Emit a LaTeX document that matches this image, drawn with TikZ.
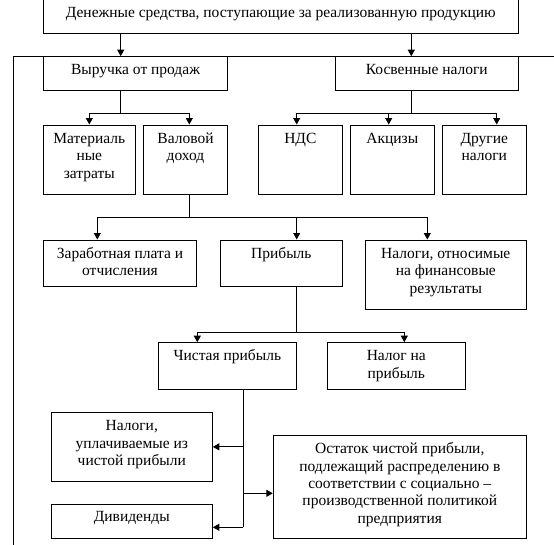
\documentclass[tikz,border=0pt]{standalone}
\usepackage{fontspec}
\setmainfont{Liberation Serif}
\usetikzlibrary{arrows.meta,fit}
\tikzset{
  ln/.style={line width=1pt},
  arr/.style={ln, -{Triangle[length=6.5pt,width=7pt]}},
  box/.style={draw, line width=1pt, inner sep=0pt},
  txt/.style={anchor=north, inner sep=0pt, align=center, font=\fontsize{15.5}{17.4}\selectfont},
}
\begin{document}
\begin{tikzpicture}[x=1pt,y=-1pt]
\useasboundingbox (0,0) rectangle (554,544);
% frame line
\coordinate (fl) at (13.3,550);
\coordinate (fr) at (560,56.7);
\draw[ln] (fl) |- (fr);
% boxes
\node[box, fit={(43.3,-3) (518.3,33.3)}] (top) {};
\node[box, fit={(43.3,56.7) (227.7,90)}] (vyr) {};
\node[box, fit={(335.3,56.7) (518.3,90)}] (kos) {};
\node[box, fit={(43.3,125) (135.3,194)}] (mat) {};
\node[box, fit={(143.3,125) (227.7,194)}] (val) {};
\node[box, fit={(258.3,125) (342.3,194)}] (nds) {};
\node[box, fit={(350.3,125) (434.3,194)}] (akc) {};
\node[box, fit={(442.3,125) (526.3,194)}] (dru) {};
\node[box, fit={(43.3,240) (196.7,286)}] (zar) {};
\node[box, fit={(220.3,240) (342.3,286)}] (pri) {};
\node[box, fit={(365.3,240) (526.3,309.3)}] (nfr) {};
\node[box, fit={(158.3,342.7) (296.3,389)}] (chi) {};
\node[box, fit={(327.3,342.7) (465.3,389)}] (nnp) {};
\node[box, fit={(51.3,412.7) (212.3,481)}] (nup) {};
\node[box, fit={(51.3,504.3) (212.3,538)}] (div) {};
\node[box, fit={(273.3,435.3) (526.3,538.7)}] (ost) {};
% texts
\node[txt] (top-t) at ([yshift=-8.2pt]top.north) {\strut Денежные средства, поступающие за реализованную продукцию};
\node[txt] (vyr-t) at ([yshift=-6.2pt]vyr.north) {\strut Выручка от продаж};
\node[txt] (kos-t) at ([yshift=-6.2pt]kos.north) {\strut Косвенные налоги};
\node[txt] (mat-t) at ([yshift=-6.6pt]mat.north) {\strut Материаль\\ные\\затраты};
\node[txt] (val-t) at ([yshift=-6.6pt]val.north) {\strut Валовой\\доход};
\node[txt] (nds-t) at ([yshift=-6.2pt]nds.north) {\strut НДС};
\node[txt] (akc-t) at ([yshift=-6.2pt]akc.north) {\strut Акцизы};
\node[txt] (dru-t) at ([yshift=-6.6pt]dru.north) {\strut Другие\\налоги};
\node[txt] (zar-t) at ([yshift=-6.4pt]zar.north) {\strut Заработная плата и\\отчисления};
\node[txt] (pri-t) at ([yshift=-6.4pt]pri.north) {\strut Прибыль};
\node[txt] (nfr-t) at ([yshift=-6.4pt]nfr.north) {\strut Налоги, относимые\\на финансовые\\результаты};
\node[txt] (chi-t) at ([yshift=-6.4pt]chi.north) {\strut Чистая прибыль};
\node[txt] (nnp-t) at ([yshift=-6.4pt]nnp.north) {\strut Налог на\\прибыль};
\node[txt] (nup-t) at ([yshift=-6.2pt]nup.north) {\strut Налоги,\\уплачиваемые из\\чистой прибыли};
\node[txt] (div-t) at ([yshift=-5.6pt]div.north) {\strut Дивиденды};
\node[txt] (ost-t) at ([yshift=-6.6pt]ost.north) {\strut Остаток чистой прибыли,\\подлежащий распределению в\\соответствии с социально --\\производственной политикой\\предприятия};
% connectors
\coordinate (xa) at (120.7,0);
\coordinate (xb) at (411.3,0);
\draw[arr] (top.south -| xa) -- (vyr.north -| xa);
\draw[arr] (top.south -| xb) -- (kos.north -| xb);
\coordinate (f1) at (120.7,113.3);
\draw[ln] (vyr.south -| f1) -- (f1);
\draw[arr] (f1) -| (mat.north);
\draw[arr] (f1) -| ([xshift=3.8pt]val.north);
\coordinate (f2) at (411.3,113.3);
\draw[ln] (kos.south -| f2) -- (f2);
\draw[arr] (f2) -| ([xshift=-3.6pt]nds.north);
\draw[arr] (f2) -| ([xshift=-3.6pt]akc.north);
\draw[arr] (f2) -| ([xshift=12.4pt]dru.north);
\coordinate (f3) at (189.3,217.3);
\draw[ln] (val.south -| f3) -- (f3);
\draw[arr] (f3) -| ([xshift=-22.7pt]zar.north);
\draw[arr] (f3) -| ([xshift=15.4pt]pri.north);
\draw[arr] (f3) -| ([xshift=-18.5pt]nfr.north);
\coordinate (f4) at (296.3,332);
\draw[ln] (pri.south -| f4) -- (f4);
\draw[arr] (f4) -| ([xshift=-30pt]chi.north);
\draw[arr] (f4) -| ([xshift=8pt]nnp.north);
\coordinate (f5) at (243.3,527.3);
\draw[ln] (chi.south -| f5) -- (f5);
\draw[arr] (nup.east -| f5) -- (nup.east);
\coordinate (b1) at ([yshift=-6.3pt]ost.west);
\draw[arr] (b1 -| f5) -- (b1);
\draw[arr] (f5) -- (div.east |- f5);
\end{tikzpicture}
\end{document}
